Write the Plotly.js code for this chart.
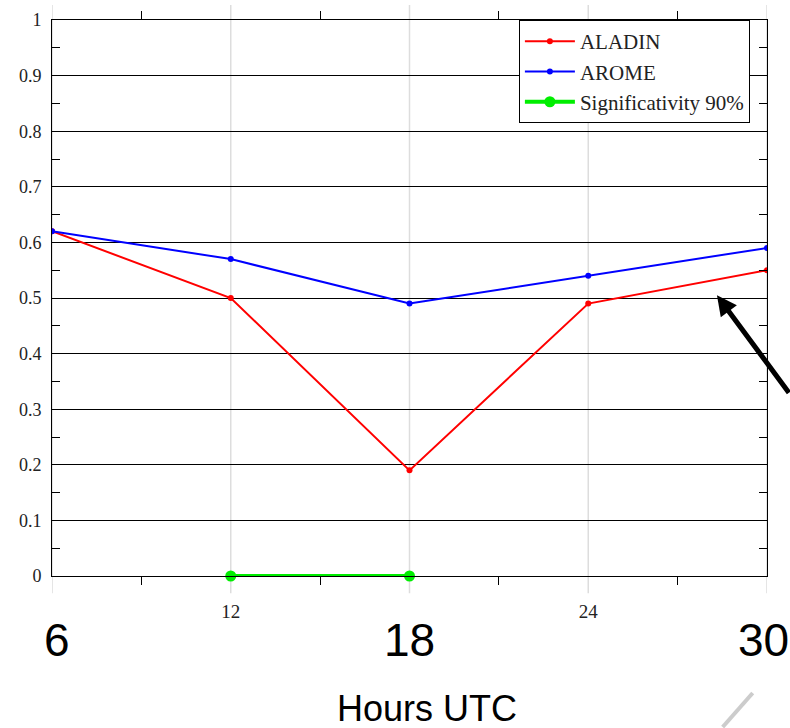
<!DOCTYPE html>
<html>
<head>
<meta charset="utf-8">
<script src="https://cdn.plot.ly/plotly-3.0.1.min.js"></script>
<style>html,body{margin:0;padding:0;background:#fff;}#chart{width:790px;height:728px;}</style>
</head>
<body>
<div id="chart"></div>
<script>
var hours = [6, 12, 18, 24, 30];
var aladin = [0.62, 0.50, 0.19, 0.49, 0.55];
var arome = [0.62, 0.57, 0.49, 0.54, 0.59];
var sigHours = [12, 18];
var sigValues = [0, 0];
var xTickVals = [6, 12, 18, 24, 30];
var xTickText = ["", "12", "", "24", ""];
var bigLabels = ["6", "18", "30"];
var bigLabelHours = [6, 18, 30];
var xTitle = "Hours UTC";

var serif = "Liberation Serif, Times New Roman, serif";
var sans = "Liberation Sans, Arial, sans-serif";

var traces = [
  {x: hours, y: aladin, name: "ALADIN", mode: "lines+markers", type: "scatter",
   line: {color: "#ff0000", width: 2}, marker: {color: "#ff0000", size: 6, symbol: "circle"}},
  {x: hours, y: arome, name: "AROME", mode: "lines+markers", type: "scatter",
   line: {color: "#0000ff", width: 2}, marker: {color: "#0000ff", size: 6, symbol: "circle"}},
  {x: sigHours, y: sigValues, name: "Significativity 90%", mode: "lines+markers", type: "scatter",
   line: {color: "#00ee00", width: 4}, marker: {color: "#00ee00", size: 11}, cliponaxis: false}
];

var shapes = xTickVals.map(function (h) {
  return {type: "line", xref: "x", yref: "paper", x0: h, x1: h, y0: -0.031, y1: 1.027,
          line: {color: "#dddddd", width: 1.5}, layer: "below"};
});
shapes.push({type: "line", xref: "paper", yref: "paper", x0: 0.980, y0: -0.2104, x1: 0.938, y1: -0.2716,
             line: {color: "#cccccc", width: 4}});

var bigShift = [5, 0, -4];
var annotations = bigLabels.map(function (t, i) {
  return {text: t, x: bigLabelHours[i], xref: "x", y: -0.115, yref: "paper", showarrow: false,
          xshift: bigShift[i], xanchor: "center", yanchor: "middle",
          font: {family: sans, size: 46, color: "#000"}};
});
annotations.push({text: xTitle, x: 0.524, xref: "paper", y: -0.238, yref: "paper", showarrow: false,
                  xanchor: "center", yanchor: "middle", font: {family: sans, size: 36, color: "#000"}});
annotations.push({text: "", x: 28.32, xref: "x", y: 0.505, yref: "y", showarrow: true,
                  ax: 82, ay: 99, arrowhead: 2, arrowsize: 0.8, arrowwidth: 5, arrowcolor: "#000"});

var layout = {
  width: 790, height: 728,
  margin: {l: 52, r: 23, t: 20, b: 152},
  paper_bgcolor: "#fff", plot_bgcolor: "#fff",
  showlegend: true,
  legend: {x: 0.653, y: 1, xanchor: "left", yanchor: "top", bgcolor: "#fff",
           bordercolor: "#000", borderwidth: 1, font: {family: serif, size: 21, color: "#222"},
           itemwidth: 50, tracegroupgap: 0},
  xaxis: {range: [6, 30], tickmode: "array", tickvals: xTickVals, ticktext: xTickText,
          showgrid: true, gridcolor: "#dddddd", gridwidth: 1, ticks: "", zeroline: false,
          showline: true, linecolor: "#000", linewidth: 1, mirror: "allticks",
          ticklabelstandoff: 18, tickfont: {family: serif, size: 19, color: "#222"},
          minor: {tickmode: "array", tickvals: [9, 15, 21, 27], ticks: "outside", ticklen: 8,
                  tickcolor: "#000", tickwidth: 1, showgrid: false}},
  yaxis: {range: [0, 1], dtick: 0.1, tick0: 0, showgrid: true, gridcolor: "#000", gridwidth: 1,
          zeroline: true, zerolinecolor: "#444", ticks: "", showline: true, linecolor: "#000",
          linewidth: 1, mirror: "allticks", ticklabelstandoff: 6,
          tickfont: {family: serif, size: 18, color: "#222"},
          minor: {dtick: 0.05, tick0: 0, ticks: "inside", ticklen: 8, tickcolor: "#000",
                  tickwidth: 1, showgrid: false}},
  shapes: shapes,
  annotations: annotations
};

Plotly.newPlot("chart", traces, layout, {displayModeBar: false, staticPlot: true});
</script>
</body>
</html>
